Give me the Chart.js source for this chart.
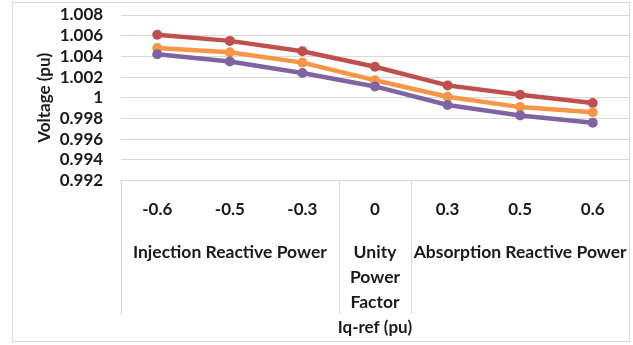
<!DOCTYPE html>
<html>
<head>
<meta charset="utf-8">
<script src="https://cdn.jsdelivr.net/npm/chart.js@4"></script>
<style>
  body { margin: 0; background: #fff; overflow: hidden; }
  #wrap { position: absolute; left: 13px; top: 3px; width: 621px; height: 338px; }
  #frame { position: absolute; left: 12px; top: 2px; width: 616px; height: 338px; border: 1px solid #d9d9d9; pointer-events: none; }
</style>
</head>
<body>
<div id="wrap"><canvas id="voltageChart"></canvas></div>
<div id="frame"></div>
<script>
const iqRef = ['-0.6', '-0.5', '-0.3', '0', '0.3', '0.5', '0.6']
const groupNames = ['Injection Reactive Power', ['Unity', 'Power', 'Factor'], 'Absorption Reactive Power']
const groupCentre = [1, 3, 5]
const groupStart = [0, 3, 4]

const redValues = [1.0061, 1.0055, 1.0045, 1.0030, 1.0012, 1.0003, 0.9995]
const orangeValues = [1.0048, 1.0044, 1.0034, 1.0017, 1.0001, 0.9991, 0.9986]
const purpleValues = [1.0042, 1.0035, 1.0024, 1.0011, 0.9993, 0.9983, 0.9976]

const gridColor = '#d9d9d9'

// second row of the x axis: group name sits under the middle category
const groupLabels = iqRef.map((v, i) => {
    const k = groupCentre.indexOf(i)
    return k >= 0 ? groupNames[k] : ''
})

function series(label, data, color) {
    return {
        label: label,
        data: data,
        borderColor: color,
        backgroundColor: color,
        borderWidth: 4.5,
        pointRadius: 5,
        pointBorderWidth: 0,
        pointBackgroundColor: color,
        tension: 0
    }
}

// vertical separators between the category groups
const groupSeparators = {
    id: 'groupSeparators',
    afterDraw(chart) {
        const x = chart.scales.x
        const x2 = chart.scales.x2
        const ctx = chart.ctx
        ctx.save()
        ctx.strokeStyle = gridColor
        ctx.lineWidth = 1
        for (let s of groupStart) {
            const px = Math.round(x.getPixelForValue(s - 0.5)) + 0.5
            ctx.beginPath()
            ctx.moveTo(px, x.top)
            ctx.lineTo(px, x2.top + 76)
            ctx.stroke()
        }
        ctx.restore()
    }
}

Chart.defaults.font.family = 'Lato'
Chart.defaults.font.size = 17
Chart.defaults.font.weight = 'bold'
Chart.defaults.color = '#1a1a1a'

new Chart('voltageChart', {
    type: 'line',
    data: {
        labels: iqRef,
        datasets: [
            series('Series 3', purpleValues, '#8064A2'),
            series('Series 2', orangeValues, '#F79646'),
            series('Series 1', redValues, '#C0504D')
        ]
    },
    options: {
        responsive: true,
        maintainAspectRatio: false,
        animation: false,
        layout: { padding: { left: 21, top: 12, right: 0, bottom: 3 } },
        plugins: {
            legend: { display: false },
            tooltip: { enabled: false }
        },
        scales: {
            y: {
                min: 0.992,
                max: 1.008,
                ticks: {
                    stepSize: 0.002,
                    autoSkip: false,
                    padding: 1.8,
                    callback: v => String(parseFloat(v.toFixed(3)))
                },
                grid: { color: gridColor, tickLength: 16, tickColor: 'transparent' },
                border: { display: false },
                title: { display: true, text: 'Voltage (pu)', padding: { top: 0, bottom: 3.5 } }
            },
            x: {
                offset: true,
                ticks: { padding: 18.8, autoSkip: false, maxRotation: 0 },
                grid: { drawOnChartArea: false, drawTicks: false },
                border: { color: gridColor }
            },
            x2: {
                type: 'category',
                position: 'bottom',
                labels: groupLabels,
                offset: true,
                ticks: { padding: 1.5, autoSkip: false, maxRotation: 0, minRotation: 0, font: { size: 17.5, lineHeight: '25px' } },
                grid: { display: false, drawTicks: false },
                border: { display: false },
                title: { display: true, text: 'Iq-ref (pu)', padding: { top: 1, bottom: 0 } }
            }
        }
    },
    plugins: [groupSeparators]
})
</script>
</body>
</html>
